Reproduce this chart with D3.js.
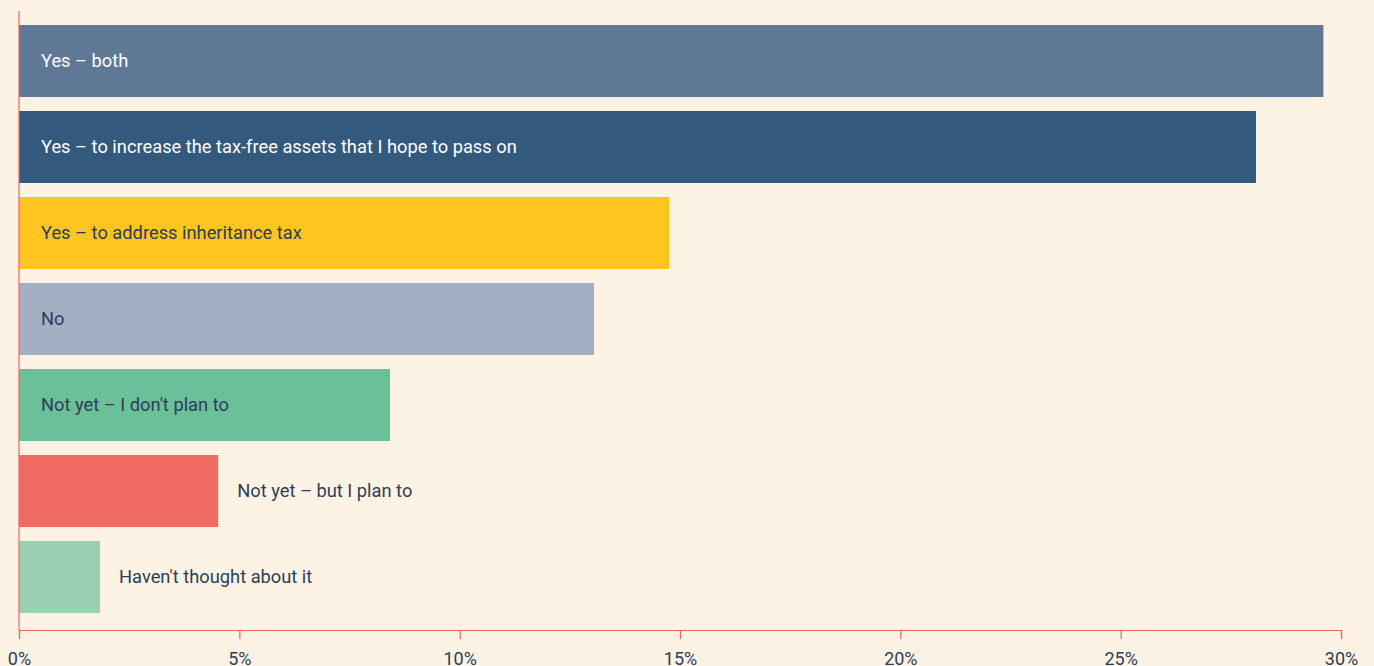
<!DOCTYPE html>
<html>
<head>
<meta charset="utf-8">
<script src="https://cdn.jsdelivr.net/npm/d3@7"></script>
<style>
  body { margin: 0; background: #fdf3e5; }
  svg { display: block; font-family: Roboto, sans-serif; }
</style>
</head>
<body>
<svg id="chart" width="1374" height="666"></svg>
<script>
// answers, top to bottom
var answers = [
  "Yes \u2013 both",
  "Yes \u2013 to increase the tax-free assets that I hope to pass on",
  "Yes \u2013 to address inheritance tax",
  "No",
  "Not yet \u2013 I don't plan to",
  "Not yet \u2013 but I plan to",
  "Haven't thought about it"
];
var shares = [29.6, 28.07, 14.75, 13.05, 8.42, 4.52, 1.84];
var barColors = ["#5f7896", "#33597c", "#fec420", "#a3afc3", "#6bbf99", "#ef6b63", "#9bd0b3"];
var labelColors = ["#ffffff", "#ffffff", "#2c3e57", "#2c3e57", "#2c3e57", "#2c3e57", "#2c3e57"];
var tickValues = [0, 5, 10, 15, 20, 25, 30];

var margin = {left: 19, right: 33, top: 11, bottom: 36}
  , width = 1374, height = 666
  , svg = d3.select("#chart")
  ;

var x = d3.scaleLinear().domain([0, 30]).range([margin.left, width - margin.right]);
var y = d3.scaleBand().domain(answers).range([18, 620]).paddingInner(14 / 86).paddingOuter(7 / 86);

// bars
svg.selectAll("rect.bar")
   .data(answers)
   .enter().append("rect")
   .attr("class", "bar")
   .attr("x", x(0))
   .attr("y", function (d) { return y(d); })
   .attr("width", function (d, i) { return x(shares[i]) - x(0); })
   .attr("height", y.bandwidth())
   .attr("fill", function (d, i) { return barColors[i]; });

// labels: inside when they fit, otherwise just past the bar
svg.selectAll("text.label")
   .data(answers)
   .enter().append("text")
   .attr("class", "label")
   .attr("y", function (d) { return y(d) + y.bandwidth() / 2; })
   .attr("dy", "0.35em")
   .attr("font-size", 18.3)
   .attr("fill", function (d, i) { return labelColors[i]; })
   .text(function (d) { return d; })
   .attr("x", function (d, i) {
     var w = this.getComputedTextLength();
     var inside = x(0) + 22;
     return (inside + w + 20 < x(shares[i])) ? inside : x(shares[i]) + 19;
   });

// axes
var axisColor = "#f1645a";
svg.append("line")
   .attr("x1", x(0)).attr("x2", x(0))
   .attr("y1", margin.top).attr("y2", height - margin.bottom)
   .attr("stroke", axisColor).attr("stroke-width", 1.2);

var xAxis = svg.append("g")
   .attr("transform", "translate(0," + (height - margin.bottom) + ")")
   .call(d3.axisBottom(x).tickValues(tickValues).tickSize(9).tickPadding(13)
           .tickFormat(function (d) { return d + "%"; }));
xAxis.select(".domain").attr("stroke", axisColor).attr("stroke-width", 1.2);
xAxis.selectAll(".tick line").attr("stroke", axisColor).attr("stroke-width", 1.2);
xAxis.selectAll(".tick text")
     .attr("font-family", "Roboto, sans-serif")
     .attr("font-size", 18)
     .attr("fill", "#2c3e57");
</script>
</body>
</html>
